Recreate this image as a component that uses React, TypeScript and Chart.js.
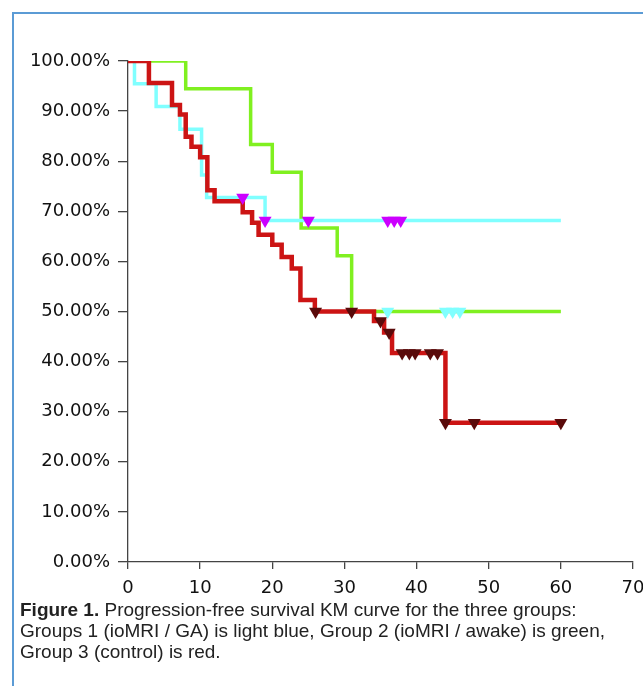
import { useEffect, useRef } from 'react';
import { Chart, registerables } from 'chart.js';
Chart.register(...registerables);

// Group 1 (ioMRI / GA) – light blue step curve
const g1Times = [0, 0.9, 3.9, 7.2, 10.2, 10.9, 19, 60];
const g1Surv = [100, 95.45, 90.91, 86.36, 77.27, 72.73, 68.18, 68.18];
const g1CensorTimes = [15.9, 19, 25, 36, 36.9, 37.8];
const g1CensorSurv = [72.73, 68.18, 68.18, 68.18, 68.18, 68.18];

// Group 2 (ioMRI / awake) – green step curve
const g2Times = [0, 8, 17, 20, 24, 29, 31, 60];
const g2Surv = [100, 94.44, 83.33, 77.78, 66.67, 61.11, 50, 50];
const g2CensorTimes = [36, 44, 45, 46];
const g2CensorSurv = [50, 50, 50, 50];

// Group 3 (control) – red step curve
const g3Times = [0, 2.9, 6.1, 7.2, 8.0, 8.8, 10.0, 11.0, 12.0, 15.9, 17.2, 18.1, 20.0, 21.3, 22.7, 23.9, 25.9, 34.1, 35.5, 36.6, 44.0, 60];
const g3Surv = [100, 95.6, 91.2, 89.3, 84.9, 82.9, 80.8, 74.2, 72.0, 69.8, 67.7, 65.3, 63.3, 60.9, 58.6, 52.3, 50.0, 48.1, 45.8, 41.7, 27.8, 27.8];
const g3CensorTimes = [26, 31, 35, 36.2, 38, 39, 39.8, 41.9, 42.9, 44, 48, 60];
const g3CensorSurv = [50, 50, 48.1, 45.8, 41.7, 41.7, 41.7, 41.7, 41.7, 27.8, 27.8, 27.8];

const xTickValues = [0, 10, 20, 30, 40, 50, 60, 70];
const yTickValues = [0, 10, 20, 30, 40, 50, 60, 70, 80, 90, 100];

const zip = (xs: number[], ys: number[]) => xs.map((x, i) => ({ x, y: ys[i] }));

export default function App() {
  const ref = useRef<HTMLCanvasElement | null>(null);
  useEffect(() => {
    document.body.style.overflow = 'hidden';
    const ctx = ref.current!;
    const tri = (color: string) => ({
      type: 'scatter' as const,
      showLine: false,
      pointStyle: 'triangle',
      rotation: 180,
      pointRadius: 7.5,
      pointHoverRadius: 7.5,
      backgroundColor: color,
      borderColor: color,
      borderWidth: 0,
      order: 0,
    });
    const chart = new Chart(ctx, {
      type: 'line',
      data: {
        datasets: [
          { data: zip(g2Times, g2Surv), borderColor: '#80f020', borderWidth: 3.5, stepped: 'before', pointRadius: 0, order: 5, fill: false },
          { data: zip(g1Times, g1Surv), borderColor: '#80ffff', borderWidth: 3.5, stepped: 'before', pointRadius: 0, order: 4, fill: false },
          { data: zip(g3Times, g3Surv), borderColor: '#cc1414', borderWidth: 4.5, stepped: 'before', pointRadius: 0, order: 3, fill: false },
          { ...tri('#cc00ff'), data: zip(g1CensorTimes, g1CensorSurv) },
          { ...tri('#80ffff'), data: zip(g2CensorTimes, g2CensorSurv) },
          { ...tri('#5a0a0a'), data: zip(g3CensorTimes, g3CensorSurv) },
        ] as any,
      },
      options: {
        animation: false,
        responsive: false,
        devicePixelRatio: 1,
        layout: { padding: { left: 0, top: 61, right: 27, bottom: 0 } },
        plugins: { legend: { display: false }, tooltip: { enabled: false } },
        scales: {
          x: {
            type: 'linear',
            min: 0,
            max: 70,
            afterFit: (s: any) => { s.height = 38; },
            afterBuildTicks: (s: any) => { s.ticks = xTickValues.map((v) => ({ value: v })); },
            ticks: { color: '#111', padding: 9, font: { family: 'DejaVu Sans', size: 18 }, maxRotation: 0, callback: (v: any) => String(v) },
            grid: { drawOnChartArea: false, drawTicks: true, tickLength: 7, color: '#444', lineWidth: 1.3 },
            border: { display: true, color: '#444', width: 1.3 },
          },
          y: {
            type: 'linear',
            min: 0,
            max: 100,
            afterFit: (s: any) => { s.width = 128; },
            afterBuildTicks: (s: any) => { s.ticks = yTickValues.map((v) => ({ value: v })); },
            ticks: { color: '#111', padding: 8, font: { family: 'DejaVu Sans', size: 18 }, callback: (v: any) => Number(v).toFixed(2) + '%' },
            grid: { drawOnChartArea: false, drawTicks: true, tickLength: 10, color: '#444', lineWidth: 1.3 },
            border: { display: true, color: '#444', width: 1.3 },
          },
        },
      } as any,
    });
    return () => chart.destroy();
  }, []);

  return (
    <>
      <div style={{ position: 'fixed', left: 12, top: 12, right: -20, bottom: -20, borderTop: '2px solid #5b9bd5', borderLeft: '2px solid #5b9bd5' }} />
      <canvas ref={ref} width={660} height={600} style={{ position: 'fixed', left: 0, top: 0 }} />
      <div style={{ position: 'fixed', left: 20, top: 599, fontFamily: '"Liberation Sans", Arial, sans-serif', fontSize: 19, lineHeight: '21px', color: '#222', whiteSpace: 'nowrap' }}>
        <div>
          <span style={{ fontFamily: '"Liberation Sans Narrow", "Liberation Sans", sans-serif', fontWeight: 'bold' }}>Figure 1.</span>
          {'  Progression-free survival KM curve for the three groups:'}
        </div>
        <div>Groups 1 (ioMRI / GA) is light blue, Group 2 (ioMRI / awake) is green,</div>
        <div>Group 3 (control) is red.</div>
      </div>
    </>
  );
}
